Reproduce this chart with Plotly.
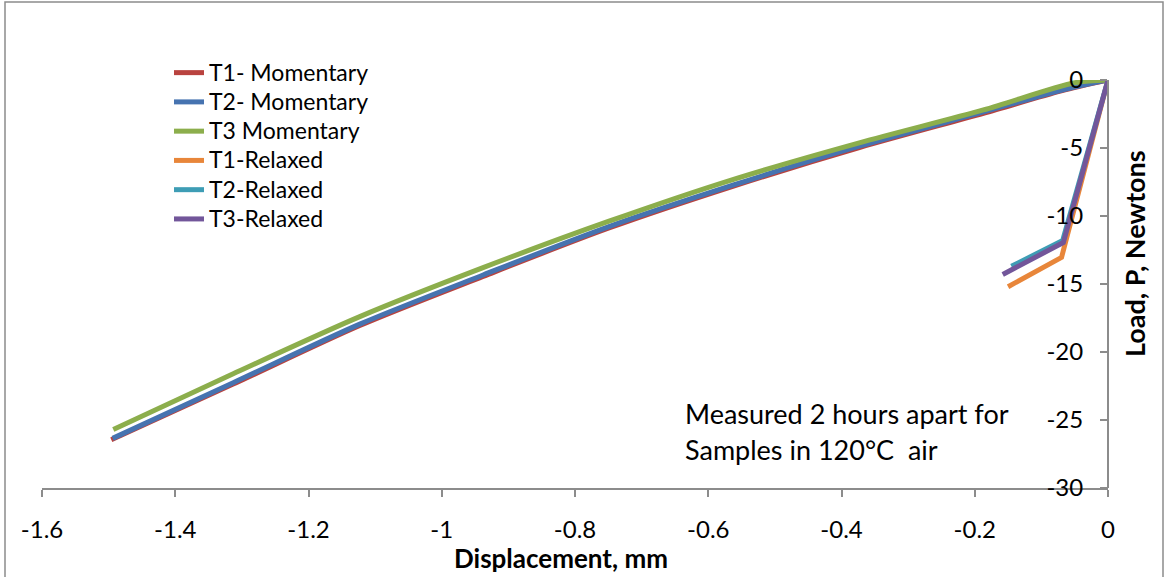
import plotly.graph_objects as go

# ---- data ----
t1_mom_x = [0, -0.07, -0.187, -0.372, -0.562, -0.75, -0.938, -1.123, -1.313, -1.496]
t1_mom_y = [0, -0.8, -2.45, -4.95, -7.8, -10.9, -14.44, -18.05, -22.36, -26.45]
t2_mom_x = [0, -0.07, -0.187, -0.372, -0.562, -0.75, -0.938, -1.123, -1.313, -1.494]
t2_mom_y = [0, -0.75, -2.35, -4.85, -7.72, -10.8, -14.34, -17.95, -22.26, -26.35]
t3_mom_x = [0, -0.05, -0.187, -0.372, -0.562, -0.75, -0.938, -1.123, -1.313, -1.493]
t3_mom_y = [0, -0.2, -2.2, -4.6, -7.3, -10.4, -13.8, -17.4, -21.6, -25.7]
t1_rel_x = [0, -0.0697, -0.15]
t1_rel_y = [0, -13.04, -15.2]
t2_rel_x = [0, -0.068, -0.145]
t2_rel_y = [0, -11.8, -13.7]
t3_rel_x = [0, -0.067, -0.158]
t3_rel_y = [0, -11.95, -14.3]

series_names = ["T1- Momentary", "T2- Momentary", "T3 Momentary",
                "T1-Relaxed", "T2-Relaxed", "T3-Relaxed"]
series_colors = ["#B9433F", "#4673B0", "#8CAE4C", "#E8863A", "#3E9DB5", "#72569A"]
series_shapes = ["spline", "spline", "spline", "linear", "linear", "linear"]

x_tickvals = [-1.6, -1.4, -1.2, -1.0, -0.8, -0.6, -0.4, -0.2, 0]
x_ticktext = ["-1.6", "-1.4", "-1.2", "-1", "-0.8", "-0.6", "-0.4", "-0.2", "0"]
y_tickvals = [0, -5, -10, -15, -20, -25, -30]
y_ticktext = ["0", "-5", "-10", "-15", "-20", "-25", "-30"]

FONT = "Lato"
W, H = 1165, 577
L, R, T, B = 42, 1108, 80, 488   # plot area in pixels


def px(x):
    return (x - L) / (R - L)


def py(y):
    return (B - y) / (B - T)


xs = [t1_mom_x, t2_mom_x, t3_mom_x, t1_rel_x, t2_rel_x, t3_rel_x]
ys = [t1_mom_y, t2_mom_y, t3_mom_y, t1_rel_y, t2_rel_y, t3_rel_y]

fig = go.Figure()
for name, color, shp, x, y in zip(series_names, series_colors, series_shapes, xs, ys):
    line = dict(color=color, width=5, shape=shp)
    if shp == "spline":
        line["smoothing"] = 0.8
    fig.add_trace(go.Scatter(
        x=x, y=y, mode="lines",
        name='<span style="font-size:23px">' + name + '</span>',
        line=line))

axis_color = "#8C8C8C"
fig.update_layout(
    width=W, height=H, autosize=False,
    margin=dict(l=L, r=W - R, t=T, b=H - B, pad=0),
    paper_bgcolor="white", plot_bgcolor="white",
    font=dict(family=FONT, size=24, color="black"),
    showlegend=True,
    legend=dict(x=px(169), y=py(53), xanchor="left", yanchor="top",
                font=dict(family=FONT, size=20.2, color="black"),
                bgcolor="rgba(0,0,0,0)", tracegroupgap=0,
                itemwidth=30),
    xaxis=dict(range=[-1.6, 0], tickvals=x_tickvals, ticktext=x_ticktext,
               showgrid=False, zeroline=False, showline=True,
               linecolor=axis_color, linewidth=2, ticks="outside",
               ticklen=7, tickwidth=2, tickcolor=axis_color,
               ticklabelstandoff=12,
               tickfont=dict(family=FONT, size=24, color="black")),
    yaxis=dict(range=[-30, 0], tickvals=y_tickvals, ticktext=y_ticktext,
               anchor="free", position=1, side="left",
               showgrid=False, zeroline=False, showline=True,
               linecolor=axis_color, linewidth=2, ticks="outside",
               ticklen=7, tickwidth=2, tickcolor=axis_color,
               ticklabelstandoff=12,
               tickfont=dict(family=FONT, size=24, color="black")),
    annotations=[
        dict(text="<b>Displacement, mm</b>", x=px(561), y=py(558),
             xref="paper", yref="paper", showarrow=False,
             xanchor="center", yanchor="middle",
             font=dict(family=FONT, size=26, color="black")),
        dict(text="<b>Load, P, Newtons</b>", x=px(1134), y=py(254),
             xref="paper", yref="paper", showarrow=False, textangle=-90,
             xanchor="center", yanchor="middle",
             font=dict(family=FONT, size=27, color="black")),
        dict(text="Measured 2 hours apart for", x=px(683), y=py(413),
             xref="paper", yref="paper", showarrow=False,
             xanchor="left", yanchor="middle",
             font=dict(family=FONT, size=27, color="black")),
        dict(text="Samples in 120°C  air", x=px(683), y=py(449),
             xref="paper", yref="paper", showarrow=False,
             xanchor="left", yanchor="middle",
             font=dict(family=FONT, size=27, color="black")),
    ],
    shapes=[
        dict(type="rect", xref="paper", yref="paper",
             x0=px(5), x1=px(1163), y0=py(590), y1=py(2),
             line=dict(color="#8C8C8C", width=1.5), fillcolor="rgba(0,0,0,0)",
             layer="below"),
    ],
)

fig.write_html("out.html")
